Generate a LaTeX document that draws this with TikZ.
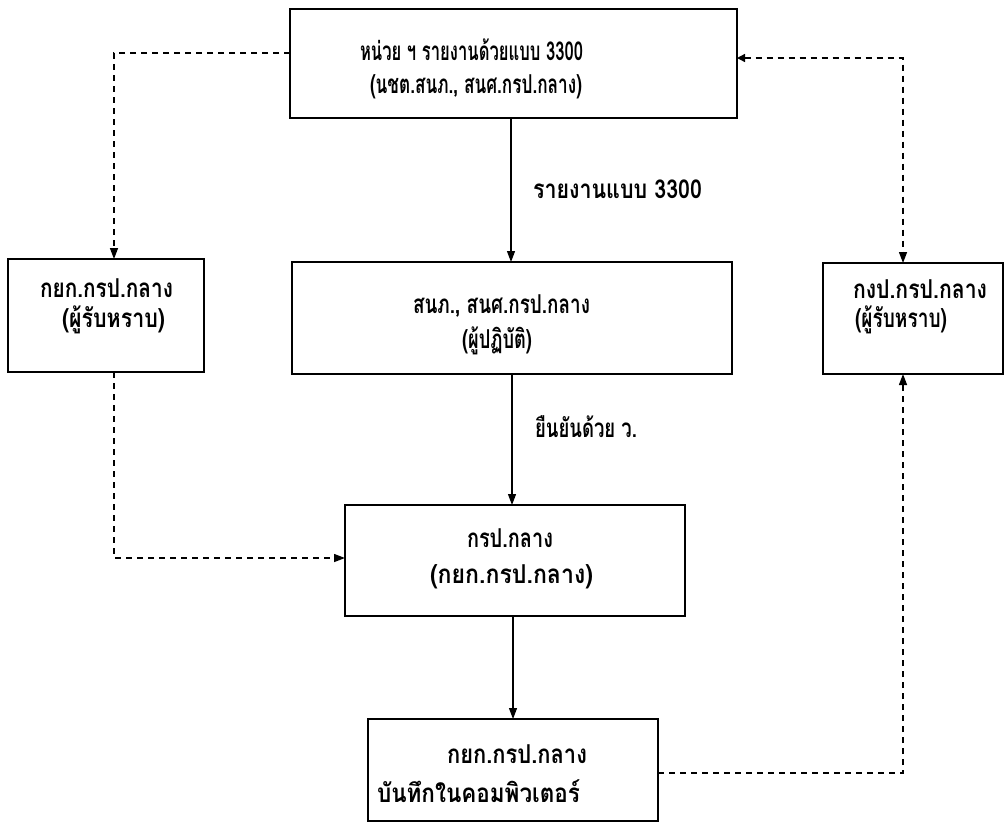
\documentclass[tikz,border=0pt]{standalone}
\usepackage{fontspec}
\usepackage{graphicx}
\newfontfamily\thaifont[Script=Thai]{Loma}
\newcommand\fitw[2]{\resizebox{#1}{\height}{#2}}
\usetikzlibrary{arrows.meta}
\begin{document}
\begin{tikzpicture}[x=1pt,y=-1pt,
  box/.style={draw,line width=1.5pt,rectangle,inner sep=0pt,outer sep=0pt},
  txt/.style={font=\thaifont\bfseries\fontsize{26}{28}\selectfont,inner sep=0pt,text height=11pt,text depth=0pt},
  arr/.style={line width=1.2pt,-{Triangle[width=8pt,length=11pt]}},
  dsh/.style={line width=1.4pt,dash pattern=on 6pt off 5pt}
]
\useasboundingbox (0,0) rectangle (1008,823);
% boxes
\node[box,minimum width=447pt,minimum height=109pt] (top) at (513.5,63.5) {};
\node[box,minimum width=196pt,minimum height=113pt] (left) at (106,315.5) {};
\node[box,minimum width=180pt,minimum height=111pt] (right) at (913,318.5) {};
\node[box,minimum width=440pt,minimum height=112pt] (mid) at (512,318) {};
\node[box,minimum width=340pt,minimum height=111pt] (grp) at (515,560.5) {};
\node[box,minimum width=290pt,minimum height=102pt] (bot) at (513,770) {};
% texts
\node[txt] (t1a) at (471.5,55) {\fitw{223pt}{หน่วย ฯ รายงานด้วยแบบ 3300}};
\node[txt] (t1b) at (476,88) {\fitw{212pt}{(นชต.สนภ., สนศ.กรป.กลาง)}};
\node[txt] (l1) at (106.5,292) {\fitw{133pt}{กยก.กรป.กลาง}};
\node[txt] (l2) at (113.5,322) {\fitw{103pt}{(ผู้รับหราบ)}};
\node[txt] (r1) at (920,293) {\fitw{134pt}{กงป.กรป.กลาง}};
\node[txt] (r2) at (901,322) {\fitw{92pt}{(ผู้รับหราบ)}};
\node[txt] (m1) at (501.5,308) {\fitw{177pt}{สนภ., สนศ.กรป.กลาง}};
\node[txt] (m2) at (497,343) {\fitw{70pt}{(ผู้ปฏิบัติ)}};
\node[txt] (lab1) at (617.5,193) {\fitw{169pt}{รายงานแบบ 3300}};
\node[txt] (lab2) at (586,432) {\fitw{102pt}{ยืนยันด้วย ว.}};
\node[txt] (g1) at (510,542) {\fitw{86pt}{กรป.กลาง}};
\node[txt] (g2) at (511.5,578) {\fitw{163pt}{(กยก.กรป.กลาง)}};
\node[txt] (b1) at (517,758) {\fitw{140pt}{กยก.กรป.กลาง}};
\node[txt] (b2) at (478.5,797) {\fitw{203pt}{บันทึกในคอมพิวเตอร์}};
% solid arrows
\draw[arr] ([xshift=-2.5pt]top.south) -- ([xshift=-2.5pt]top.south |- mid.north);
\draw[arr] (mid.south) -- (mid.south |- grp.north);
\draw[arr] (bot.north |- grp.south) -- (bot.north);
% dashed connectors
\draw[dsh,arr,line width=1.4pt] ([yshift=10.5pt]top.west) -| ([xshift=8pt]left.north);
\draw[dsh,{Triangle[width=8pt,length=8pt]}-{Triangle[width=8pt,length=11pt]}] ([yshift=5.5pt]top.east) -| ([xshift=-10pt]right.north);
\draw[dsh,arr,line width=1.4pt] ([xshift=8pt]left.south) |- ([yshift=2.5pt]grp.west);
\draw[dsh,arr,line width=1.4pt] ([yshift=-3pt]bot.east) -| ([xshift=-10pt]right.south);
\end{tikzpicture}
\end{document}
